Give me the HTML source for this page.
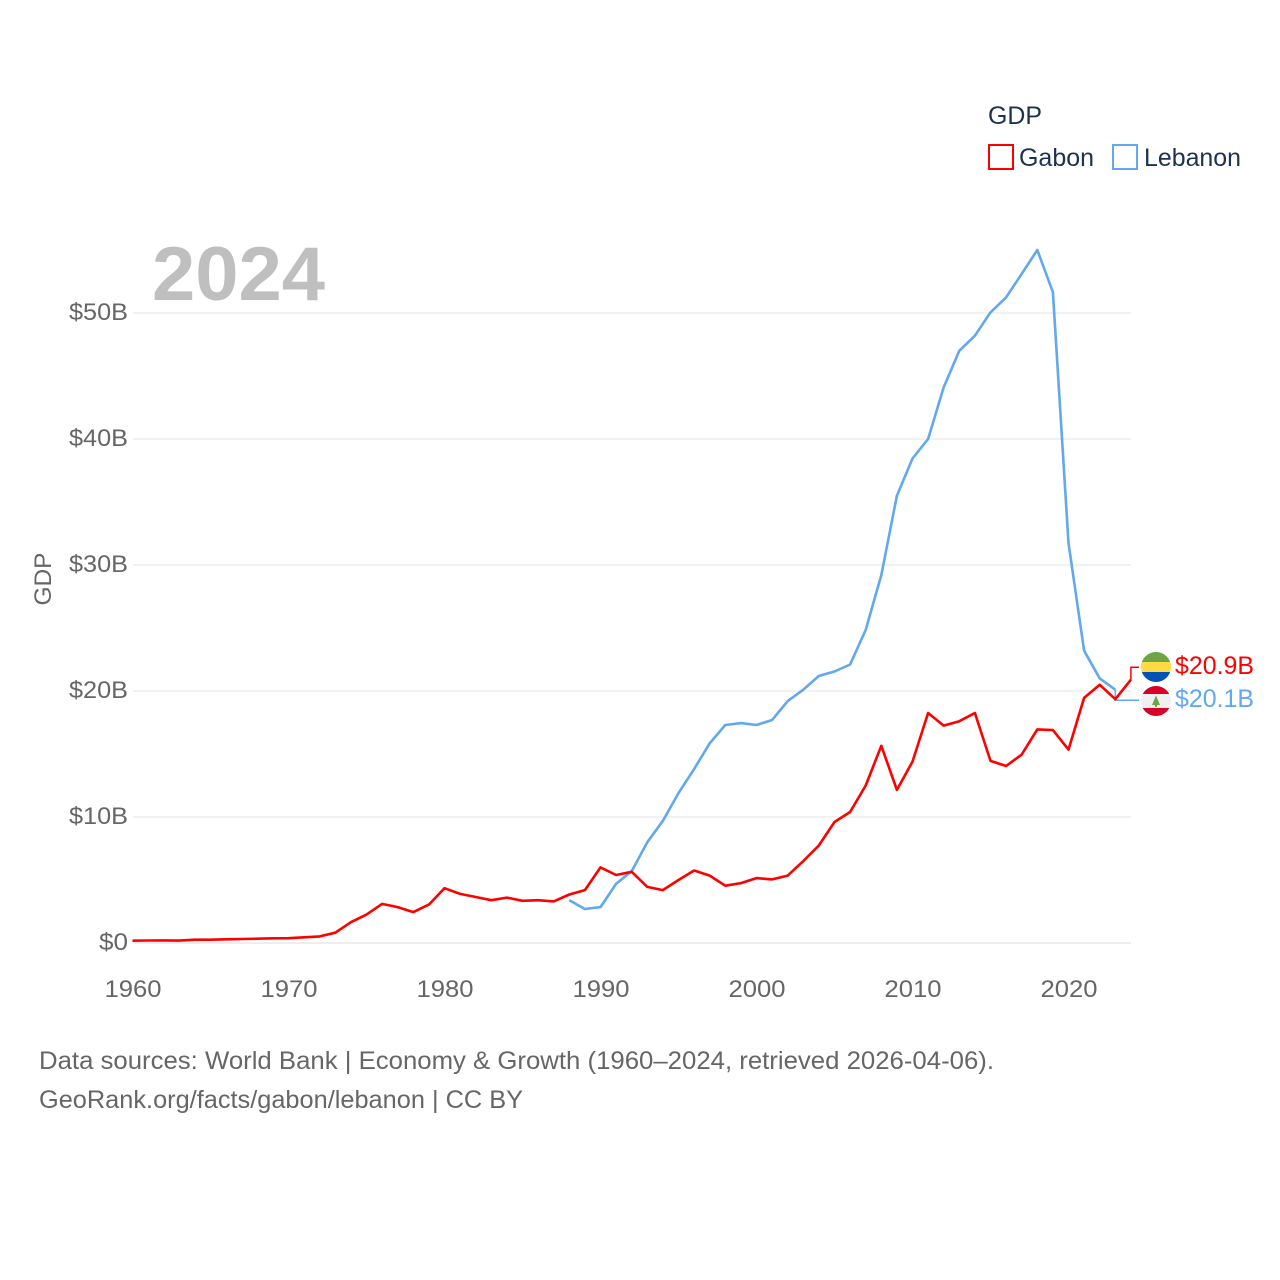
<!DOCTYPE html>
<html lang="en">
<head>
<meta charset="utf-8">
<title>GDP: Gabon and Lebanon</title>
<style>
html,body{margin:0;padding:0;background:#fff;width:1280px;height:1280px;overflow:hidden}
svg{display:block;font-family:"Liberation Sans",sans-serif}
</style>
</head>
<body>
<svg id="chart" width="1280" height="1280" viewBox="0 0 1280 1280" xmlns="http://www.w3.org/2000/svg">
  <rect width="1280" height="1280" fill="#fff"/>
  <g id="grid"></g>
  <g id="yticks"></g>
  <g id="xticks"></g>
  <text x="152" y="300" font-size="76" font-weight="bold" fill="#bfbfbf" textLength="173" lengthAdjust="spacingAndGlyphs">2024</text>
  <text transform="translate(51,579) rotate(-90)" text-anchor="middle" font-size="24" fill="#666" textLength="53" lengthAdjust="spacingAndGlyphs">GDP</text>
  <g id="series"></g>
  <g>
    <text x="988" y="124" font-size="25" fill="#1d3252" textLength="54" lengthAdjust="spacingAndGlyphs">GDP</text>
    <rect x="989" y="145" width="24" height="24" fill="none" stroke="#ff0000" stroke-width="2"/>
    <text x="1019" y="166" font-size="25" fill="#1d3252" textLength="75" lengthAdjust="spacingAndGlyphs">Gabon</text>
    <rect x="1113" y="145" width="24" height="24" fill="none" stroke="#62a8ee" stroke-width="2"/>
    <text x="1144" y="166" font-size="25" fill="#1d3252" textLength="97" lengthAdjust="spacingAndGlyphs">Lebanon</text>
  </g>
  <defs>
    <clipPath id="flag-clip-gabon"><circle cx="1156" cy="667" r="15"/></clipPath>
    <clipPath id="flag-clip-lebanon"><circle cx="1156" cy="701" r="15"/></clipPath>
  </defs>
  <g clip-path="url(#flag-clip-gabon)">
    <rect x="1141" y="652" width="30" height="10" fill="#6da544"/>
    <rect x="1141" y="662" width="30" height="10" fill="#ffda44"/>
    <rect x="1141" y="672" width="30" height="10" fill="#0052b4"/>
  </g>
  <g clip-path="url(#flag-clip-lebanon)">
    <rect x="1141" y="686" width="30" height="30" fill="#f0f0f0"/>
    <rect x="1141" y="686" width="30" height="8" fill="#d80027"/>
    <rect x="1141" y="708" width="30" height="8" fill="#d80027"/>
    <polygon points="1156,695.5 1160,705 1152,705" fill="#6da544"/>
    <rect x="1155" y="704" width="2" height="3" fill="#6da544"/>
  </g>
  <g>
    <text x="39" y="1069" font-size="25" fill="#666" textLength="955" lengthAdjust="spacingAndGlyphs">Data sources: World Bank | Economy &amp; Growth (1960–2024, retrieved 2026-04-06).</text>
    <text x="39" y="1108" font-size="25" fill="#666" textLength="484" lengthAdjust="spacingAndGlyphs">GeoRank.org/facts/gabon/lebanon | CC BY</text>
  </g>
</svg>
<script>
const gabonYears = [1960,1961,1962,1963,1964,1965,1966,1967,1968,1969,1970,1971,1972,1973,1974,1975,1976,1977,1978,1979,1980,1981,1982,1983,1984,1985,1986,1987,1988,1989,1990,1991,1992,1993,1994,1995,1996,1997,1998,1999,2000,2001,2002,2003,2004,2005,2006,2007,2008,2009,2010,2011,2012,2013,2014,2015,2016,2017,2018,2019,2020,2021,2022,2023,2024];
const gabonValues = [0.18,0.2,0.21,0.19,0.26,0.26,0.29,0.32,0.34,0.37,0.38,0.45,0.52,0.82,1.65,2.25,3.1,2.85,2.45,3.05,4.35,3.9,3.65,3.4,3.6,3.35,3.4,3.3,3.85,4.2,6.0,5.4,5.65,4.45,4.2,5.0,5.75,5.35,4.55,4.75,5.15,5.05,5.35,6.5,7.75,9.6,10.4,12.5,15.65,12.15,14.4,18.25,17.25,17.6,18.25,14.45,14.05,14.95,16.95,16.9,15.35,19.45,20.5,19.35,20.9];
const lebanonYears = [1988,1989,1990,1991,1992,1993,1994,1995,1996,1997,1998,1999,2000,2001,2002,2003,2004,2005,2006,2007,2008,2009,2010,2011,2012,2013,2014,2015,2016,2017,2018,2019,2020,2021,2022,2023];
const lebanonValues = [3.4,2.7,2.85,4.7,5.7,8.0,9.7,11.9,13.8,15.85,17.3,17.45,17.3,17.7,19.2,20.1,21.2,21.55,22.1,24.85,29.2,35.5,38.45,40.0,44.1,47.0,48.2,50.05,51.25,53.1,55.0,51.65,31.75,23.2,21.0,20.1];
const yTickValues = [0,10,20,30,40,50];
const xTickValues = [1960,1970,1980,1990,2000,2010,2020];

const NS = 'http://www.w3.org/2000/svg';
function xScale(year){ return 132.5 + (year - 1960) * 15.6; }
function yScale(v){ return 943 - v * 12.6; }
function make(tag, attrs, text){
  const el = document.createElementNS(NS, tag);
  for (const k in attrs) el.setAttribute(k, attrs[k]);
  if (text !== undefined) el.textContent = text;
  return el;
}
const grid = document.getElementById('grid');
const yticks = document.getElementById('yticks');
const xticks = document.getElementById('xticks');
const series = document.getElementById('series');

yTickValues.forEach(function(v){
  const line = make('line', {x1:133, x2:1131, y1:yScale(v), y2:yScale(v), stroke:v === 0 ? '#e3e3e3' : '#ebebeb', 'stroke-width':1.2});
  
  
  grid.appendChild(line);
  const label = make('text', {x:128, y:yScale(v) + 7, 'text-anchor':'end', 'font-size':24, fill:'#666', textLength:v === 0 ? 29 : 59, lengthAdjust:'spacingAndGlyphs'}, '$' + v + (v === 0 ? '' : 'B'));
  
  
  yticks.appendChild(label);
});
xTickValues.forEach(function(t){
  const label = make('text', {x:xScale(t) + 0.5, y:997, 'text-anchor':'middle', 'font-size':24, fill:'#666', textLength:57, lengthAdjust:'spacingAndGlyphs'}, String(t));
  
  
  xticks.appendChild(label);
});
function pathFor(years, values){
  return values.map(function(v, i){ return (i ? 'L' : 'M') + xScale(years[i]).toFixed(1) + ' ' + yScale(v).toFixed(1); }).join(' ');
}
function drawSeries(name, years, values, color, labelOffset, labelLen){
  const path = make('path', {d:pathFor(years, values), fill:'none', stroke:color, 'stroke-width':2.6, 'stroke-linejoin':'round'});
  
  
  series.appendChild(path);
  const last = values[values.length - 1];
  const ex = xScale(years[years.length - 1]);
  const ey = yScale(last);
  const ly = ey + labelOffset;
  const conn = make('path', {d:'M' + ex.toFixed(1) + ' ' + ey.toFixed(1) + ' V' + ly.toFixed(1) + ' H1139', fill:'none', stroke:color, 'stroke-width':1.5});
  
  
  series.appendChild(conn);
  const label = make('text', {x:1175, y:ly + 7, 'font-size':25, fill:color, textLength:labelLen, lengthAdjust:'spacingAndGlyphs'}, '$' + last.toFixed(1) + 'B');
  
  
  series.appendChild(label);
}
drawSeries('lebanon', lebanonYears, lebanonValues, '#62a8ee', 10.5, 79);
drawSeries('gabon', gabonYears, gabonValues, '#ff0000', -12.5, 79);
</script>
</body>
</html>
